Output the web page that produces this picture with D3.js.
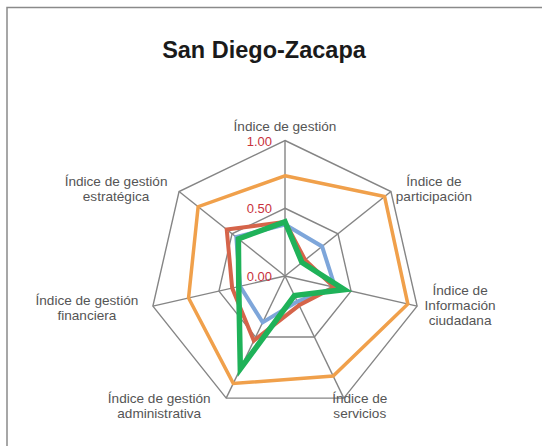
<!DOCTYPE html>
<html>
<head>
<meta charset="utf-8">
<script src="https://cdn.jsdelivr.net/npm/d3@7"></script>
<style>
  body { margin: 0; background: #fff; }
  text { font-family: "Liberation Sans", Arial, sans-serif; }
</style>
</head>
<body>
<script>
// categories, clockwise from the top
var categories = [
  ["Índice de gestión"],
  ["Índice de", "participación"],
  ["Índice de", "Información", "ciudadana"],
  ["Índice de", "servicios"],
  ["Índice de gestión", "administrativa"],
  ["Índice de gestión", "financiera"],
  ["Índice de gestión", "estratégica"]
];
var tickValues = [0, 0.5, 1];
var tickLabels = ["0.00", "0.50", "1.00"];

// series values
var orangeVals = [0.74, 0.94, 0.93, 0.82, 0.88, 0.73, 0.82];
var blueVals   = [0.38, 0.35, 0.38, 0.21, 0.38, 0.34, 0.46];
var redVals    = [0.40, 0.19, 0.37, 0.24, 0.53, 0.40, 0.55];
var greenVals  = [0.40, 0.16, 0.45, 0.16, 0.76, 0.35, 0.44];

var W = 542, H = 446;
var cx = 285, cy = 276, R = 135.5;
var n = categories.length;

// label offsets from each outer vertex: [center dx, first baseline dy]
var labelOffsets = [[0,-9.5],[43,-5.5],[43,-11],[16,5],[-67,5],[-66,-1],[-63,-5.5]];

var svg = d3.select("body").append("svg")
  .attr("width", W)
  .attr("height", H);

// frame
svg.append("rect")
  .attr("x", 7).attr("y", 7.5)
  .attr("width", 600).attr("height", 600)
  .attr("fill", "none")
  .attr("stroke", "#8a8a8a")
  .attr("stroke-width", 1.5);

svg.append("text")
  .attr("x", 264).attr("y", 58)
  .attr("text-anchor", "middle")
  .attr("font-size", 23.5)
  .attr("font-weight", "bold")
  .attr("fill", "#1a1a1a")
  .text("San Diego-Zacapa");

var r = d3.scaleLinear().domain([0, 1]).range([0, R]);
var angle = function(i) { return -Math.PI / 2 + i * 2 * Math.PI / n; };
var pt = function(v, i) {
  return [cx + r(v) * Math.cos(angle(i)), cy + r(v) * Math.sin(angle(i))];
};

var g = svg.append("g");

// spokes
d3.range(n).forEach(function(i) {
  var p = pt(1, i);
  g.append("line")
    .attr("x1", cx).attr("y1", cy)
    .attr("x2", p[0]).attr("y2", p[1])
    .attr("stroke", "#858585")
    .attr("stroke-width", 1.4);
});

// rings
var line = d3.line().curve(d3.curveLinearClosed);
tickValues.filter(function(t) { return t > 0; }).forEach(function(t) {
  g.append("path")
    .attr("d", line(d3.range(n).map(function(i) { return pt(t, i); })))
    .attr("fill", "none")
    .attr("stroke", "#858585")
    .attr("stroke-width", 1.4);
});

// series
var series = [
  {vals: orangeVals, color: "#F0A04B", w: 3.5},
  {vals: blueVals,   color: "#7EA6DA", w: 4},
  {vals: redVals,    color: "#D5644A", w: 4},
  {vals: greenVals,  color: "#1FB259", w: 5.5}
];
series.forEach(function(s) {
  g.append("path")
    .attr("d", line(s.vals.map(function(v, i) { return pt(v, i); })))
    .attr("fill", "none")
    .attr("stroke", s.color)
    .attr("stroke-width", s.w)
    .attr("stroke-linejoin", "miter");
});

// tick labels
tickValues.forEach(function(t, k) {
  svg.append("text")
    .attr("x", cx - 13)
    .attr("y", cy - r(t) + 5)
    .attr("text-anchor", "end")
    .attr("font-size", 13)
    .attr("fill", "#C8323C")
    .text(tickLabels[k]);
});

// category labels
categories.forEach(function(lines, i) {
  var p = pt(1, i);
  var off = labelOffsets[i];
  var t = svg.append("text")
    .attr("text-anchor", "middle")
    .attr("font-size", 13.6)
    .attr("fill", "#555555");
  lines.forEach(function(l, j) {
    t.append("tspan")
      .attr("x", p[0] + off[0])
      .attr("y", p[1] + off[1] + j * 15)
      .text(l);
  });
});
</script>
</body>
</html>
